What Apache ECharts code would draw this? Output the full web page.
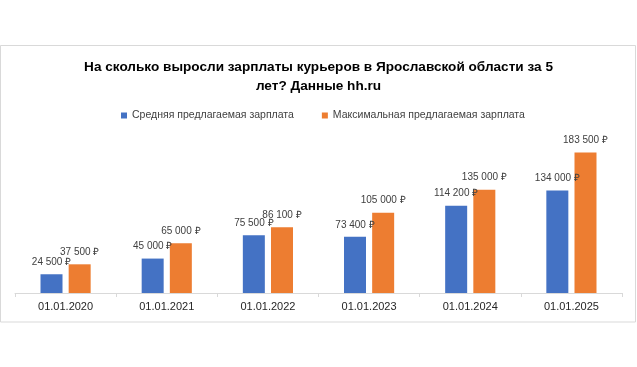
<!DOCTYPE html>
<html>
<head>
<meta charset="utf-8">
<script src="https://cdn.jsdelivr.net/npm/echarts@6/dist/echarts.min.js"></script>
<style>
html,body{margin:0;padding:0;background:#fff;}
#c{width:637px;height:367px;}
</style>
</head>
<body>
<div id="c"></div>
<script>
const categories = ['01.01.2020','01.01.2021','01.01.2022','01.01.2023','01.01.2024','01.01.2025'];
const avgSalary = [24500, 45000, 75500, 73400, 114200, 134000];
const maxSalary = [37500, 65000, 86100, 105000, 135000, 183500];
const seriesNames = ['Средняя предлагаемая зарплата', 'Максимальная предлагаемая зарплата'];
const titleText = 'На сколько выросли зарплаты курьеров в Ярославской области за 5\nлет? Данные hh.ru';

const FONT = '"Liberation Sans", Arial, sans-serif';
function fmt(v){
  return String(v).replace(/\B(?=(\d{3})+(?!\d))/g, ' ') + ' ₽';
}
const chart = echarts.init(document.getElementById('c'), null, {renderer:'canvas'});
chart.setOption({
  animation:false,
  backgroundColor:'#fff',
  textStyle:{fontFamily:FONT},
  graphic:[{
    type:'rect', silent:true, z:-1,
    shape:{x:0.5, y:45.5, width:635, height:276.5},
    style:{fill:'none', stroke:'#d9d9d9', lineWidth:1}
  }],
  title:{
    text:titleText,
    left:'center', top:58, padding:0,
    textStyle:{fontFamily:FONT, fontWeight:'bold', fontSize:13.6, color:'#000', lineHeight:19}
  },
  legend:{
    data:seriesNames,
    top:105, left:116,
    itemWidth:6, itemHeight:6, itemGap:28,
    icon:'rect',
    textStyle:{fontFamily:FONT, fontSize:10.5, color:'#404040'}
  },
  grid:{left:15, right:15, top:140, bottom:74},
  xAxis:{
    type:'category', data:categories,
    axisLine:{lineStyle:{color:'#d9d9d9', width:1}},
    axisTick:{show:true, length:4, lineStyle:{color:'#d9d9d9'}},
    axisLabel:{fontFamily:FONT, fontSize:11, color:'#262626', margin:8}
  },
  yAxis:{
    type:'value', min:0, max:200000, show:false,
    splitLine:{show:false}
  },
  series:[
    {
      name:seriesNames[0], type:'bar', data:avgSalary,
      barWidth:22, barGap:'28%',
      itemStyle:{color:'#4472C4'},
      label:{show:true, position:'top', distance:7, formatter:p=>fmt(p.value),
        fontFamily:FONT, fontSize:10, color:'#404040'}
    },
    {
      name:seriesNames[1], type:'bar', data:maxSalary,
      barWidth:22,
      itemStyle:{color:'#ED7D31'},
      label:{show:true, position:'top', distance:7, formatter:p=>fmt(p.value),
        fontFamily:FONT, fontSize:10, color:'#404040'}
    }
  ]
});
</script>
</body>
</html>
